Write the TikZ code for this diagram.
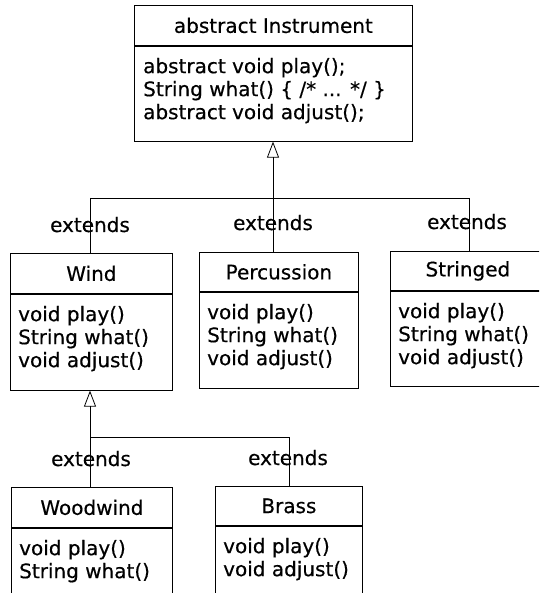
\documentclass[tikz,border=0pt]{standalone}
\usepackage{fontspec}
\setmainfont[FakeBold=0.4]{DejaVu Sans}
\usetikzlibrary{arrows.meta}
\newcommand\memfont{\fontsize{20}{23}\selectfont}
\tikzset{
  box/.style={draw, line width=0.8pt, inner sep=0pt, anchor=north west, font=\memfont},
  mem/.style={anchor=north west, align=left, inner sep=0pt, font=\memfont},
  ext/.style={anchor=base, inner sep=0pt, font=\memfont},
  conn/.style={line width=0.8pt},
  inh/.style={line width=0.8pt, -{Triangle[open, width=12pt, length=16pt, line width=0.8pt]}},
}
\begin{document}
\begin{tikzpicture}[x=1pt, y=-1pt]
\useasboundingbox (0,0) rectangle (539,593);
\clip (0,0) rectangle (539,593);
\fill[white] (0,0) rectangle (539,593);

% Instrument
\node[box, minimum width=278pt, minimum height=40pt] (instr) at (134,5) {abstract Instrument};
\node[box, minimum width=278pt, minimum height=95pt] (instrb) at (instr.south west) {};
\node[mem] (instrt) at ([shift={(9,12)}]instrb.north west) {abstract void play();\\String what() \{ /* ... */ \}\\abstract void adjust();};

% Wind
\node[box, minimum width=162pt, minimum height=40pt] (wind) at (10,253) {Wind};
\node[box, minimum width=162pt, minimum height=96pt] (windb) at (wind.south west) {};
\node[mem] (windt) at ([shift={(8,12)}]windb.north west) {void play()\\String what()\\void adjust()};

% Percussion
\node[box, minimum width=159pt, minimum height=39pt] (perc) at (199,252) {Percussion};
\node[box, minimum width=159pt, minimum height=96pt] (percb) at (perc.south west) {};
\node[mem] (perct) at ([shift={(8,12)}]percb.north west) {void play()\\String what()\\void adjust()};

% Stringed
\node[box, minimum width=155pt, minimum height=39pt] (str) at (390,251) {Stringed};
\node[box, minimum width=155pt, minimum height=95pt] (strb) at (str.south west) {};
\node[mem] (strt) at ([shift={(8,12)}]strb.north west) {void play()\\String what()\\void adjust()};

% Woodwind
\node[box, minimum width=161pt, minimum height=40pt] (wood) at (11,487) {Woodwind};
\node[box, minimum width=161pt, minimum height=75pt] (woodb) at (wood.south west) {};
\node[mem] (woodt) at ([shift={(8,12)}]woodb.north west) {void play()\\String what()};

% Brass
\node[box, minimum width=147pt, minimum height=39pt] (brass) at (215,486) {Brass};
\node[box, minimum width=147pt, minimum height=67pt] (brassb) at (brass.south west) {};
\node[mem] (brasst) at ([shift={(8,12)}]brassb.north west) {void play()\\void adjust()};

% upper inheritance
\coordinate (b1) at (90,198);
\coordinate (b2) at (273,198);
\coordinate (b3) at (469,198);
\draw[conn] (b1) -- (b3);
\draw[conn] (b1) -- (b1 |- wind.north);
\draw[conn] (b2) -- (b2 |- perc.north);
\draw[conn] (b3) -- (b3 |- str.north);
\draw[inh] (b2) -- (b2 |- instrb.south);

% lower inheritance
\coordinate (c1) at (90,437);
\coordinate (c2) at (289,437);
\draw[conn] (c1) -- (c2);
\draw[conn] (c1) -- (c1 |- wood.north);
\draw[conn] (c2) -- (c2 |- brass.north);
\draw[inh] (c1) -- (c1 |- windb.south);

% labels
\node[ext] (e1) at (90,232) {extends};
\node[ext] (e2) at (273,230) {extends};
\node[ext] (e3) at (467,229) {extends};
\node[ext] (e4) at (91,466) {extends};
\node[ext] (e5) at (288,465) {extends};
\end{tikzpicture}
\end{document}
